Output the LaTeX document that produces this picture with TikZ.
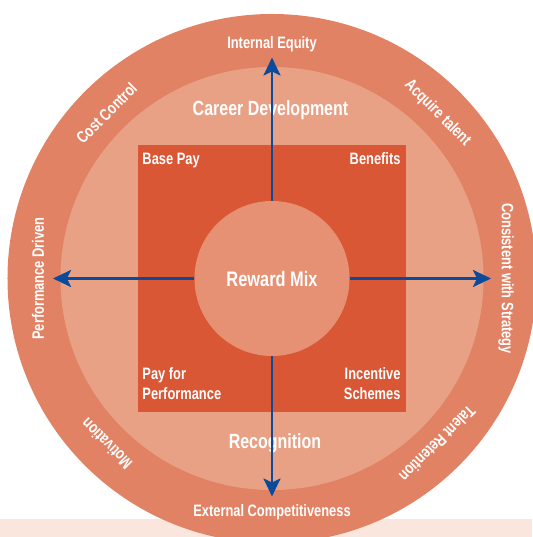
\documentclass[tikz,border=0pt]{standalone}
\usepackage{fontspec}
\setmainfont[FakeStretch=0.78]{Liberation Sans}
\usetikzlibrary{arrows.meta}
\definecolor{ringout}{HTML}{E28264}
\definecolor{ringmid}{HTML}{E9A185}
\definecolor{quadfill}{HTML}{D95734}
\definecolor{mixfill}{HTML}{E69173}
\definecolor{bandfill}{HTML}{FAE6DC}
\definecolor{spokeblue}{HTML}{0C4B9B}
\tikzset{
  ringtext/.style={text=white,inner sep=0,font=\bfseries\fontsize{16.5}{20}\selectfont},
  quadtext/.style={text=white,inner sep=0,font=\bfseries\fontsize{16.5}{20.5}\selectfont},
  bigtext/.style={text=white,inner sep=0,font=\bfseries\fontsize{20.5}{24}\selectfont},
  spoke/.style={draw=spokeblue,line width=2.7pt,-{Stealth[length=18pt,width=17pt,inset=4pt]}}
}
\begin{document}
\begin{tikzpicture}[x=1pt,y=1pt]
\useasboundingbox (-272,-258.5) rectangle (260,278.5);
\fill[bandfill] (-272,-258.5) rectangle (260,-240.5);
\fill[ringout] (0,0) circle (264.5pt);
\fill[ringmid] (0,0) circle (211.5pt);
\node (quad) [fill=quadfill,minimum size=267pt,inner sep=0] at (0,0) {};
\node (mix) [circle,fill=mixfill,minimum size=155pt,bigtext,font=\bfseries\fontsize{21}{24}\selectfont] at (0,0) {Reward Mix};
\node (basepay) [quadtext,anchor=north west] at ([shift={(4,-8)}]quad.north west) {Base Pay};
\node (benefits) [quadtext,anchor=north east] at ([shift={(-5,-8)}]quad.north east) {Benefits};
\node (payperf) [quadtext,anchor=north west,align=left] at ([shift={(4,45)}]quad.south west) {Pay for\\Performance};
\node (incent) [quadtext,anchor=north east,align=right] at ([shift={(-5,45)}]quad.south east) {Incentive\\Schemes};
\node (career) [bigtext,anchor=base] at (-1.5,162.5) {Career Development};
\node (recog) [bigtext,anchor=base] at (3,-170) {Recognition};
\foreach \a/\r/\t [count=\i] in {
  90/0/Internal Equity,
  45/-45/Acquire talent,
  0/-90/Consistent with Strategy,
  -45/-135/Talent Retention,
  -90/0/External Competitiveness,
  -135/135/Motivation,
  180/90/Performance Driven,
  135/45/Cost Control%
}
\node (ring\i) [ringtext,rotate=\r] at (\a:234) {\t};
\coordinate (tipN) at (0,221);
\coordinate (tipE) at (219,0);
\coordinate (tipS) at (0,-218);
\coordinate (tipW) at (-219,0);
\foreach \d in {N,E,S,W}
\draw[spoke] (mix) -- (tip\d);
\end{tikzpicture}
\end{document}
